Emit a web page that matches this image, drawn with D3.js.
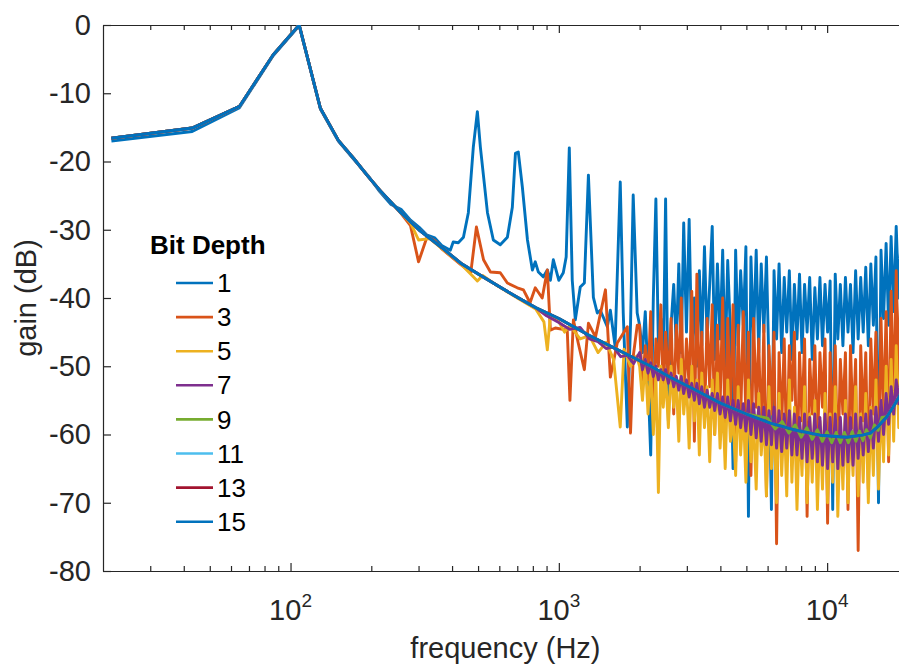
<!DOCTYPE html>
<html>
<head>
<meta charset="utf-8">
<script src="https://cdn.jsdelivr.net/npm/d3@7"></script>
<style>
  body { margin: 0; background: #fff; }
  svg { display: block; font-family: "Liberation Sans", Arial, Helvetica, sans-serif; }
</style>
</head>
<body>
<svg id="chart" width="899" height="665"></svg>
<script>
const bitDepths = [1, 3, 5, 7, 9, 11, 13, 15]
const lineColors = ["#0072BD", "#D95319", "#EDB120", "#7E2F8E", "#77AC30", "#4DBEEE", "#A2142F", "#0072BD"]
const yTicks = [0, -10, -20, -30, -40, -50, -60, -70, -80]
const xMajor = [100, 1000, 10000]

// curve shared by the high bit depths (11, 13, 15 sit on it)
const smoothFreq = [21.5, 43, 64.6, 86.1, 107.7, 129.2, 150.7, 172.3, 193.8, 215, 258, 301, 366, 431, 517, 603, 700, 818,
  1000, 1300, 1700, 2200, 2600, 3200, 4000, 5000, 6100, 7500, 9400, 11800, 13500, 14500, 15500, 16700, 17600, 18600, 19500]
const smoothGain = [-16.6, -15.1, -11.9, -4.4, 0, -12.2, -16.9, -19.6, -22.1, -24.2, -27.5, -30.0, -32.6, -34.9, -36.8, -38.4, -39.9, -41.4,
  -43.0, -45.5, -47.8, -50.0, -51.6, -53.4, -55.4, -57.0, -58.3, -59.3, -60.1, -60.4, -60.1, -59.8, -58.8, -57.4, -56.0, -54.4, -52.5]

// low / mid band, below 2 kHz
const freq1 = [21.5, 43, 64.6, 86.1, 107.7, 129.2, 150.7, 172.3, 193.8, 215, 237, 258, 280, 301, 323, 345, 366, 394, 404, 422, 441, 460,
  480, 497, 510, 542, 570, 605, 643, 671, 689, 706, 731, 764, 797, 817, 839, 876, 906, 930, 954, 1000, 1039, 1065, 1094, 1122,
  1152, 1202, 1245, 1289, 1345, 1391, 1427, 1516, 1556, 1620, 1694, 1738, 1800, 1850, 1893, 1959]
const gain1 = [-17.0, -15.6, -12.1, -4.5, -0.1, -12.3, -17.0, -19.7, -22.0, -24.4, -26.3, -27.0, -28.6, -29.6, -30.8, -31.2, -32.3, -33.0,
  -31.8, -31.9, -31.1, -27.5, -17.9, -12.7, -17.9, -27.5, -31.5, -32.2, -31.1, -26.7, -18.8, -18.6, -23.7, -31.5, -35.9, -34.7,
  -36.2, -36.9, -35.9, -37.4, -34.4, -37.4, -36.3, -34.0, -18.0, -37.4, -43.2, -38.4, -37.8, -22.0, -39.9, -42.2, -41.8, -44.2,
  -41.8, -47.0, -23.0, -42.2, -58.9, -44.0, -24.9, -42.2]
const freq3 = [258, 280, 300, 323, 345, 366, 431, 470, 493, 524, 556, 605, 643, 700, 738, 781, 817, 867, 906, 930, 970, 1075,
  1100, 1133, 1181, 1245, 1289, 1370, 1492, 1556, 1651, 1800, 1850, 1893, 1960]
const gain3 = [-27.6, -29.4, -34.7, -31.0, -31.6, -32.8, -35.1, -36.2, -29.6, -34.4, -36.2, -36.3, -37.8, -38.5, -38.8, -40.7, -38.5,
  -40.0, -35.9, -44.7, -44.4, -44.7, -55.0, -43.2, -46.6, -50.5, -43.7, -45.7, -38.8, -51.6, -46.6, -44.2, -59.8, -48.6, -44.0]
const freq5 = [280, 300, 330, 431, 480, 497, 520, 600, 700, 820, 880, 906, 930, 1000, 1050, 1100, 1200, 1300, 1400, 1500, 1600,
  1694, 1750, 1850, 1950]
const gain5 = [-29.0, -31.5, -31.3, -35.0, -36.9, -37.5, -36.7, -38.4, -40.0, -41.6, -43.5, -47.6, -42.5, -43.5, -45.0, -44.0,
  -46.0, -45.5, -48.0, -46.5, -49.0, -58.9, -47.5, -50.0, -48.5]
const freq7 = [900, 1000, 1100, 1200, 1300, 1400, 1500, 1600, 1700, 1800, 1900]
const gain7 = [-42.6, -43.6, -44.6, -44.3, -46.0, -46.4, -47.4, -47.2, -48.6, -48.4, -49.6]
const freq9 = [6000, 6400, 6800, 7200, 7600, 8000, 8400, 8800, 9200, 9600, 10000, 10400, 10800, 11200, 11600, 12000, 12400,
  12800, 13200, 13600, 14000, 14500, 15000, 15500, 16000]
const gain9 = [-57.6, -59.2, -58.1, -59.8, -58.6, -60.4, -59.0, -60.7, -59.3, -61.0, -59.6, -61.2, -59.7, -61.2, -59.7, -61.2,
  -59.6, -61.0, -59.5, -60.9, -59.3, -60.5, -58.6, -59.4, -57.5]

// dense band above 2 kHz
const denseFreq = [2000, 2050, 2100, 2150, 2200, 2250, 2300, 2350, 2400, 2450, 2500, 2560, 2620, 2680, 2740, 2800, 2860, 2920,
  2990, 3060, 3130, 3200, 3270, 3340, 3410, 3490, 3570, 3650, 3730, 3810, 3900, 3990, 4080, 4170, 4260, 4360, 4460, 4560, 4660,
  4760, 4870, 4980, 5090, 5200, 5320, 5440, 5560, 5680, 5810, 5940, 6070, 6200, 6340, 6480, 6620, 6770, 6920, 7070, 7230, 7390,
  7550, 7720, 7890, 8060, 8240, 8420, 8610, 8800, 9000, 9200, 9400, 9610, 9820, 10040, 10260, 10490, 10720, 10960, 11200, 11450,
  11700, 11960, 12220, 12490, 12770, 13050, 13340, 13630, 13930, 14240, 14550, 14870, 15200, 15540, 15880, 16230, 16590, 16950,
  17320, 17700, 18090, 18490, 18900, 19300]
const dense1 = [-44, -48, -42, -52, -63, -40, -25.5, -47, -43, -50,
  -25.5, -58, -44, -38, -47, -35, -48, -29, -45, -28.5,
  -48, -40, -50, -36, -47, -32.5, -46, -38, -29.5, -49,
  -35, -46, -33, -50, -34.5, -45, -65, -33, -47, -36,
  -44, -32.5, -72, -34, -46, -33, -48, -35, -45, -34,
  -50, -71, -36, -46, -35, -48, -37, -45, -36, -49,
  -38, -46, -36.5, -48, -38, -45, -37, -49, -38.5, -46,
  -37, -47, -38, -45, -37.5, -71, -36.5, -46, -38, -47,
  -37, -45, -38, -48, -36, -46, -37, -45, -35.5, -47,
  -35, -44, -34, -70, -33, -43, -32, -44, -31, -42,
  -29.5, -40, -30, -38]
const dense3 = [-44, -53, -47, -52, -42, -58, -46, -50, -41, -55,
  -45, -52, -43, -57, -44, -51, -40, -56, -46, -53,
  -39, -61, -36.5, -55, -45, -58, -43, -53, -41, -60,
  -44, -56, -40, -62, -43, -57, -41, -64, -44, -58,
  -42, -58, -45, -66, -43, -56, -46, -61, -44, -69,
  -47, -57, -45, -76, -48, -59, -46, -64, -47, -55,
  -45, -68, -48, -58, -46, -72, -49, -57, -47, -63,
  -48, -56, -46, -73, -48, -60, -47, -66, -49, -57,
  -48, -71, -47, -59, -49, -77, -47, -58, -48, -68,
  -46, -57, -45, -65, -43, -58, -42, -64, -39, -56,
  -36, -54, -33, -52]
const dense5 = [-50, -55, -49, -57, -50, -60, -51, -68.5, -50, -56,
  -51, -59, -50, -56, -52, -61, -49, -57, -52, -62,
  -50, -58, -52, -63, -51, -59, -53, -64, -52, -60,
  -51, -62, -55, -65, -52, -61, -57, -66, -53, -63,
  -56, -67, -52, -64, -58, -68, -54, -63, -57, -69,
  -53, -65, -58, -70, -54, -66, -57, -69, -52, -67,
  -56, -71, -58, -66, -53, -70, -57, -67, -55, -71,
  -58, -68, -54, -70, -57, -67, -53, -72, -58, -68,
  -55, -70, -58, -66, -53, -69, -57, -67, -54, -70,
  -56, -66, -52, -68, -55, -64, -50, -63, -49, -61,
  -47, -59, -46, -57]
const dense7 = [-48, -50.5, -49, -51, -49.5, -51.5, -50, -52, -50.5, -52,
  -50.5, -52.5, -51, -53, -51.5, -53.5, -51.5, -54, -52, -54.5,
  -52.5, -55, -52.5, -55.5, -53, -56, -53.5, -56, -54, -56.5,
  -54, -57, -54.5, -57.5, -54.5, -58, -55, -58.5, -55, -59,
  -55.5, -59.5, -55, -60, -55.5, -60.5, -56, -61, -56, -61.5,
  -56.5, -61.5, -56, -62, -56.5, -62.5, -57, -62, -56.5, -63,
  -57, -63, -57.5, -63.5, -57, -64, -57.5, -63.5, -57, -64,
  -57.5, -64.5, -57, -65, -57.5, -64, -57, -65, -57.5, -64.5,
  -57, -64, -57.5, -64.5, -57, -63.5, -57.5, -63, -57, -62.5,
  -56.5, -62, -56, -61, -55, -60, -54, -58.5, -53, -57,
  -52, -55.5, -50.5, -54]

// join the pieces of one trace: smooth curve where the trace has no own values
function trace(freqs, gains, dense) {
  const pts = []
  smoothFreq.forEach((f, i) => { if (freqs.length && f < freqs[0]) pts.push({f, g: smoothGain[i]}) })
  freqs.forEach((f, i) => pts.push({f, g: gains[i]}))
  if (dense) denseFreq.forEach((f, i) => pts.push({f, g: dense[i]}))
  else smoothFreq.forEach((f, i) => {
    if (!freqs.length || f > freqs[freqs.length - 1]) pts.push({f, g: smoothGain[i]})
  })
  return pts
}

const series = [
  trace(freq1, gain1, dense1),
  trace(freq3, gain3, dense3),
  trace(freq5, gain5, dense5),
  trace(freq7, gain7, dense7),
  trace(freq9, gain9),
  trace([], []),
  trace([], []),
  trace([], [])
]

const width = 899
const height = 665
const margin = ({top: 25, left: 103, bottom: 94})
const decade = 268.3
const axisColor = "#262626"

const x = d3.scaleLog()
    .domain([20, 20000])
    .range([margin.left, margin.left + decade * 3])

const y = d3.scaleLinear()
    .domain([-80, 0])
    .range([height - margin.bottom, margin.top])

const svg = d3.select("#chart")
    .attr("viewBox", [0, 0, width, height])

svg.append("defs").append("clipPath")
    .attr("id", "plot")
    .append("rect")
    .attr("x", x(20))
    .attr("y", y(0))
    .attr("width", x(20000) - x(20))
    .attr("height", y(-80) - y(0))

const minorTicks = x.ticks().filter(v => v > 20 && !xMajor.includes(v))

const xAxisBottom = g => g
    .attr("transform", `translate(0,${y(-80)})`)
    .attr("color", axisColor)
    .call(d3.axisBottom(x).tickValues(minorTicks).tickSizeInner(-5).tickSizeOuter(0).tickFormat(""))
    .call(g => g.append("g")
        .call(d3.axisBottom(x).tickValues(xMajor).tickSizeInner(-8).tickSizeOuter(0).tickFormat(""))
        .call(g => g.select(".domain").remove()))

const xAxisTop = g => g
    .attr("transform", `translate(0,${y(0)})`)
    .attr("color", axisColor)
    .call(d3.axisTop(x).tickValues(minorTicks).tickSizeInner(-5).tickSizeOuter(0).tickFormat(""))
    .call(g => g.append("g")
        .call(d3.axisTop(x).tickValues(xMajor).tickSizeInner(-8).tickSizeOuter(0).tickFormat(""))
        .call(g => g.select(".domain").remove()))

const yAxis = g => g
    .attr("transform", `translate(${margin.left},0)`)
    .attr("color", axisColor)
    .call(d3.axisLeft(y).tickValues(yTicks).tickSizeInner(-8).tickSizeOuter(0).tickPadding(12).tickFormat(d => String(d)))
    .attr("font-size", 29)
    .attr("font-family", null)

svg.append("g").call(xAxisBottom)
svg.append("g").call(xAxisTop)
svg.append("g").call(yAxis)
svg.selectAll(".domain, .tick line").attr("stroke-width", 1.2)

// decade labels 10^n
svg.append("g")
    .attr("fill", axisColor)
    .attr("font-size", 29)
    .attr("text-anchor", "middle")
    .selectAll("text")
    .data(xMajor)
    .join("text")
    .attr("x", d => x(d))
    .attr("y", 620)
    .call(t => t.append("tspan").text("10"))
    .call(t => t.append("tspan").attr("dy", -13).attr("font-size", 19).text(d => Math.round(Math.log10(d))))

svg.append("text")
    .attr("x", (x(20) + x(20000)) / 2)
    .attr("y", 658)
    .attr("text-anchor", "middle")
    .attr("fill", axisColor)
    .attr("font-size", 29)
    .text("frequency (Hz)")

svg.append("text")
    .attr("transform", `translate(36,${(y(0) + y(-80)) / 2}) rotate(-90)`)
    .attr("text-anchor", "middle")
    .attr("fill", axisColor)
    .attr("font-size", 29)
    .text("gain (dB)")

const line = d3.line()
    .x(d => x(d.f))
    .y(d => y(d.g))

svg.append("g")
    .attr("clip-path", "url(#plot)")
    .attr("fill", "none")
    .attr("stroke-width", 2.9)
    .attr("stroke-linejoin", "round")
    .selectAll("path")
    .data(series)
    .join("path")
    .attr("stroke", (d, i) => lineColors[i])
    .attr("d", line)

// legend
const legend = svg.append("g")
    .attr("font-size", 26)
    .attr("fill", "#000")

legend.append("text")
    .attr("x", 150)
    .attr("y", 254)
    .attr("font-weight", "bold")
    .text("Bit Depth")

const rows = legend.selectAll("g.row")
    .data(bitDepths)
    .join("g")
    .attr("class", "row")
    .attr("transform", (d, i) => `translate(0,${283 + i * 34.1})`)

rows.append("line")
    .attr("x1", 176)
    .attr("x2", 213)
    .attr("stroke", (d, i) => lineColors[i])
    .attr("stroke-width", 2.6)

rows.append("text")
    .attr("x", 217)
    .attr("dy", "0.35em")
    .text(d => d)
</script>
</body>
</html>
